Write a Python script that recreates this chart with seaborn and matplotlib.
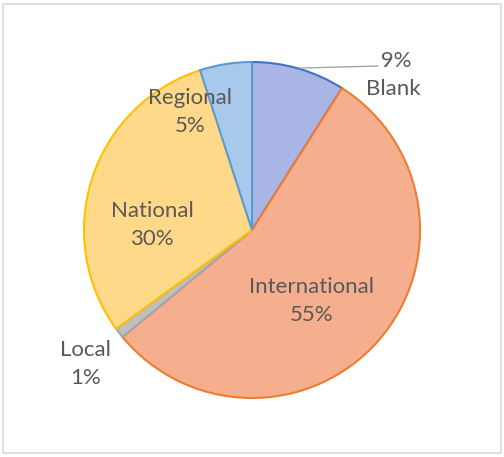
import matplotlib
matplotlib.use("Agg")
import matplotlib.pyplot as plt
import seaborn as sns
from matplotlib.patches import Rectangle

categories = ["Blank", "International", "Local", "National", "Regional"]
values = [9, 55, 1, 30, 5]
pct_labels = ["9%", "55%", "1%", "30%", "5%"]

fill_colors = ["#a9b5e4", "#f5ae8e", "#bfbfbf", "#ffd98a", "#a8c9ec"]
edge_colors = ["#4472c4", "#ed7d31", "#a5a5a5", "#ffc000", "#5b9bd5"]

sns.set_theme(style="white")
plt.rcParams["font.family"] = ["Lato", "DejaVu Sans"]

W, H = 504, 457
fig = plt.figure(figsize=(W / 100, H / 100), dpi=100)
cx, cy, r = 252, 230, 168
ax = fig.add_axes([(cx - r) / W, (H - cy - r) / H, 2 * r / W, 2 * r / H])

wedges, _ = ax.pie(values, colors=fill_colors, startangle=90, counterclock=False,
                   radius=1, wedgeprops=dict(linewidth=1.5))
for w, ec in zip(wedges, edge_colors):
    w.set_edgecolor(ec)
ax.set_xlim(-1, 1)
ax.set_ylim(-1, 1)
ax.axis("off")

txt = dict(color="#595959", fontsize=16, ha="center", va="center", linespacing=1.5)
label_pos = {
    "International": (0.357, -0.42),
    "National": (-0.595, 0.03),
    "Regional": (-0.37, 0.70),
    "Local": (-0.99, -0.80),
}
for cat, p in zip(categories, pct_labels):
    if cat == "Blank":
        continue
    x, y = label_pos[cat]
    ax.text(x, y, f"{cat}\n{p}", **txt)

# Blank label with leader line
ax.plot([0.286, 0.75], [0.964, 0.976], color="#a6a6a6", lw=1, clip_on=False)
ax.text(0.84, 0.92, f" {pct_labels[0]}\n{categories[0]}", **txt)

fig.patches.append(Rectangle((3 / W, 4 / H), 498 / W, 449 / H, transform=fig.transFigure,
                             fill=False, edgecolor="#d9d9d9", linewidth=1.2))
fig.savefig("out.png", dpi=100)
